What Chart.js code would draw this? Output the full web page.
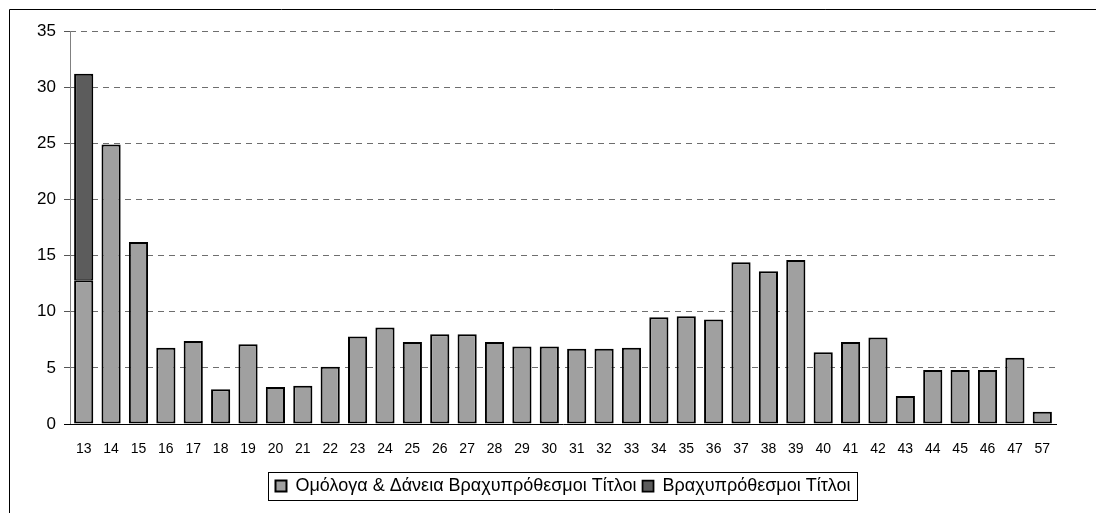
<!DOCTYPE html>
<html>
<head>
<meta charset="utf-8">
<script src="https://cdn.jsdelivr.net/npm/chart.js@4.4.1/dist/chart.umd.min.js"></script>
<style>
  html, body { margin: 0; padding: 0; background: #fff; }
  #wrap { width: 1096px; height: 513px; }
</style>
</head>
<body>
<div id="wrap"><canvas id="myChart" width="1096" height="513"></canvas></div>
<script>
// categories on the x axis
var labels = [
  "13", "14", "15", "16", "17", "18", "19", "20", "21", "22", "23", "24",
  "25", "26", "27", "28", "29", "30", "31", "32", "33", "34", "35", "36",
  "37", "38", "39", "40", "41", "42", "43", "44", "45", "46", "47", "57",
];

// Ομόλογα & Δάνεια Βραχυπρόθεσμοι Τίτλοι
var bonds = [
  12.8, 24.9, 16.2, 6.8, 7.4, 3.1, 7.1, 3.3, 3.4, 5.1, 7.8, 8.6,
  7.3, 8.0, 8.0, 7.3, 6.9, 6.9, 6.7, 6.7, 6.8, 9.5, 9.6, 9.3,
  14.4, 13.6, 14.6, 6.4, 7.3, 7.7, 2.5, 4.8, 4.8, 4.8, 5.9, 1.1,
];

// Βραχυπρόθεσμοι Τίτλοι (only the first category)
var shortTerm = [
  18.4, null, null, null, null, null, null, null, null, null, null, null,
  null, null, null, null, null, null, null, null, null, null, null, null,
  null, null, null, null, null, null, null, null, null, null, null, null,
];

var yTicks = [0, 5, 10, 15, 20, 25, 30, 35];

// frame around the whole chart, solid y axis line, box around the legend
var framePlugin = {
  id: "frame",
  beforeDraw: function (chart) {
    var c = chart.ctx;
    c.save();
    c.strokeStyle = "#000";
    c.lineWidth = 1;
    c.beginPath();
    c.moveTo(9.5, 520);
    c.lineTo(9.5, 9.5);
    c.lineTo(1100, 9.5);
    c.stroke();
    c.restore();
  },
  afterDraw: function (chart) {
    var c = chart.ctx;
    var area = chart.chartArea;
    c.save();
    // y axis line (solid)
    c.strokeStyle = "#808080";
    c.lineWidth = 1;
    c.beginPath();
    c.moveTo(Math.round(area.left) + 0.5, area.top);
    c.lineTo(Math.round(area.left) + 0.5, area.bottom);
    c.stroke();
    // x axis line running out over the 0 tick
    c.strokeStyle = "#000";
    c.beginPath();
    c.moveTo(area.left - 6, Math.round(area.bottom) + 0.5);
    c.lineTo(area.left, Math.round(area.bottom) + 0.5);
    c.stroke();

    var boxes = chart.legend.legendHitBoxes;
    if (boxes && boxes.length) {
      var first = boxes[0];
      var last = boxes[boxes.length - 1];
      var left = Math.round(first.left) - 6.5;
      var right = Math.round(last.left + last.width) + 6.5;
      var top = Math.round(first.top) - 4.5;
      var bottom = Math.round(first.top + first.height) + 5.5;
      c.strokeRect(left, top, right - left, bottom - top);
    }
    c.restore();
  },
};

var ctx = document.getElementById("myChart");
new Chart(ctx, {
  type: "bar",
  data: {
    labels: labels,
    datasets: [
      {
        label: "Ομόλογα & Δάνεια Βραχυπρόθεσμοι Τίτλοι",
        data: bonds,
        backgroundColor: "#a0a0a0",
        borderColor: "#000",
        borderWidth: 2,
        borderSkipped: false,
        categoryPercentage: 1,
        barPercentage: 0.7,
      },
      {
        label: "Βραχυπρόθεσμοι Τίτλοι",
        data: shortTerm,
        backgroundColor: "#5c5c5c",
        borderColor: "#000",
        borderWidth: { top: 2, left: 2, right: 2, bottom: 1 },
        borderSkipped: false,
        categoryPercentage: 1,
        barPercentage: 0.7,
      },
    ],
  },
  options: {
    responsive: false,
    animation: false,
    layout: { padding: { left: 10, top: 31, right: 40, bottom: 8 } },
    scales: {
      x: {
        stacked: true,
        grid: { display: false, drawTicks: false },
        border: { color: "#000", width: 1 },
        ticks: {
          color: "#000",
          padding: 17,
          maxRotation: 0,
          autoSkip: false,
          font: { family: "Liberation Sans, Arial", size: 14 },
        },
        afterFit: function (scale) {
          scale.height = 47;
        },
      },
      y: {
        stacked: true,
        min: 0,
        max: 35,
        afterBuildTicks: function (scale) {
          scale.ticks = yTicks.map(function (v) {
            return { value: v };
          });
        },
        grid: {
          color: "#6e6e6e",
          lineWidth: 1,
          tickLength: 6,
          tickColor: "#555",
          tickBorderDash: [6, 5],
        },
        border: { display: false, dash: [6, 5] },
        ticks: {
          color: "#000",
          padding: 8,
          font: { family: "Liberation Sans, Arial", size: 17 },
        },
        afterFit: function (scale) {
          scale.width = 60;
        },
      },
    },
    plugins: {
      legend: {
        position: "bottom",
        fullSize: false,
        labels: {
          color: "#000",
          boxWidth: 11,
          boxHeight: 11,
          padding: 6,
          font: { family: "Liberation Sans, Arial", size: 18 },
        },
      },
      tooltip: { enabled: false },
    },
  },
  plugins: [framePlugin],
});
</script>
</body>
</html>
